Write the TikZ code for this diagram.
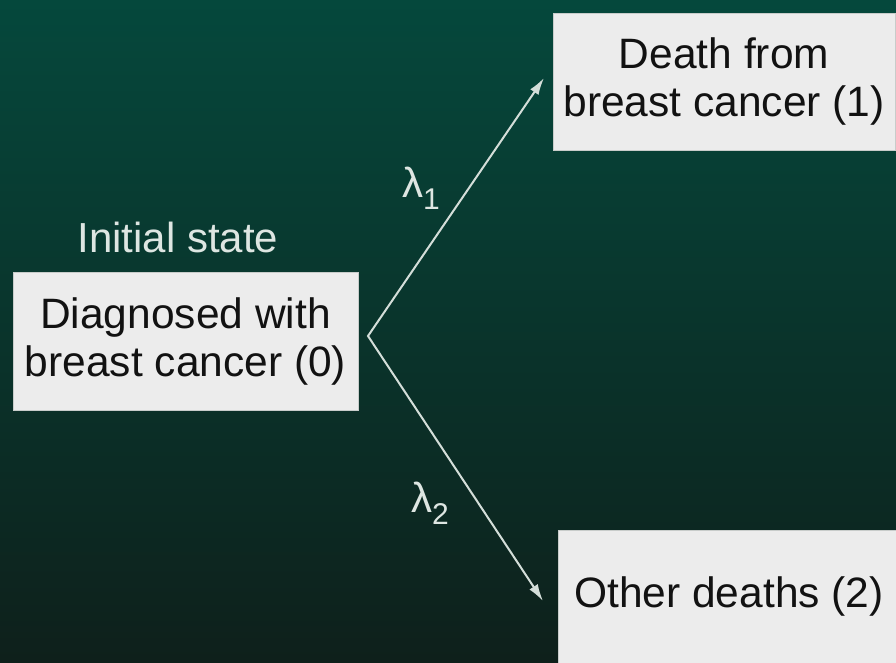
\documentclass[tikz,border=0pt]{standalone}
\usepackage{fontspec}
\setmainfont{Liberation Sans}
\usetikzlibrary{arrows.meta}
\definecolor{bgtop}{RGB}{5,72,60}
\definecolor{bgmid}{RGB}{3,62,48}
\definecolor{bgbot}{RGB}{14,32,27}
\definecolor{boxfill}{RGB}{236,236,236}
\definecolor{boxline}{RGB}{200,204,202}
\definecolor{linecol}{RGB}{212,222,217}
\definecolor{labcol}{RGB}{222,230,226}
\definecolor{txtcol}{RGB}{18,18,18}
\begin{document}
\begin{tikzpicture}[x=1pt,y=-1pt,
  statebox/.style={draw=boxline, line width=0.8pt, fill=boxfill, text=txtcol, align=center,
    font=\fontsize{42.5}{48}\selectfont, inner sep=0pt},
  lbl/.style={text=labcol, font=\fontsize{42}{48}\selectfont, inner sep=0pt},
  conn/.style={draw=linecol, line width=2pt, line join=miter,
    {Latex[length=17pt,width=10pt]}-{Latex[length=17pt,width=10pt]}}]
\useasboundingbox (0,0) rectangle (896,662);
\shade[top color=bgtop, middle color=bgmid, bottom color=bgbot] (0,0) rectangle (896,662);
\node[statebox, minimum width=345pt, minimum height=138pt] (s0) at (185.5,341) {Diagnosed with\\breast cancer (0)};
\node[statebox, minimum width=342pt, minimum height=137pt] (s1) at (724,81.5) {Death from\\breast cancer (1)};
\node[statebox, minimum width=342pt, minimum height=134pt, text depth=9pt] (s2) at (729,597) {Other deaths (2)};
\node[lbl, anchor=base] (init) at (178,252) {Initial state};
\node[lbl, anchor=base west] (l1) at (402,197) {λ\raisebox{-0.3em}{\fontsize{30}{30}\selectfont 1}};
\node[lbl, anchor=base west] (l2) at (411,512) {λ\raisebox{-0.3em}{\fontsize{30}{30}\selectfont 2}};
\coordinate (apex) at (368,336);
\coordinate (tip1) at (544,78);
\coordinate (tip2) at (543,601);
\draw[conn] (tip1) -- (apex) -- (tip2);
\end{tikzpicture}
\end{document}
